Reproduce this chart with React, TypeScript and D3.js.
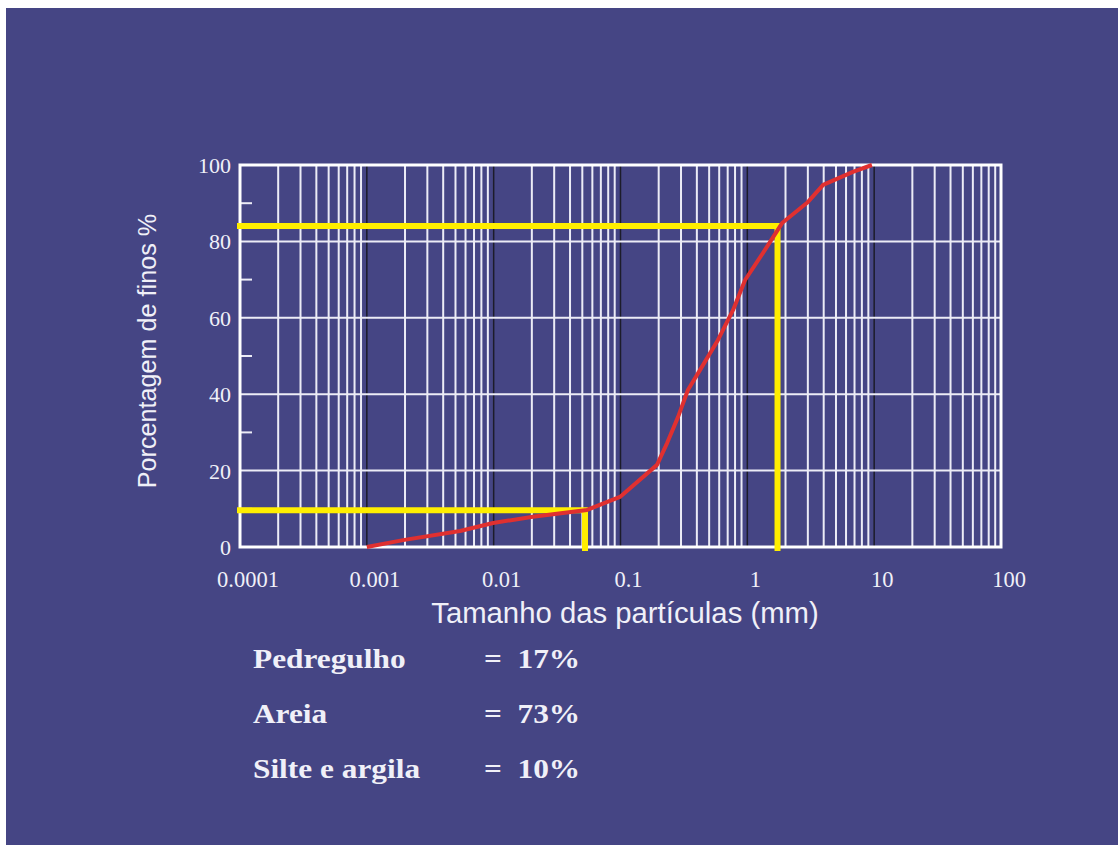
import React from 'react';
import * as d3 from 'd3';

// grading curve: particle size (mm) vs % passing
const sizes = [0.001, 0.00193, 0.00543, 0.0099, 0.0204, 0.0545, 0.099, 0.194, 0.233, 0.284, 0.34, 0.423, 0.587, 0.771, 0.96, 1.33, 1.88, 2.96, 3.96, 6.8, 9.6];
const passing = [0, 1.8, 4.2, 6.3, 7.9, 9.7, 13.1, 21.5, 27.2, 34.0, 41.1, 46.3, 54.2, 62.0, 69.9, 77.0, 84.8, 90.1, 94.8, 98.2, 100];

const xTickValues = [0.0001, 0.001, 0.01, 0.1, 1, 10, 100];
const xTickLabels = ['0.0001', '0.001', '0.01', '0.1', '1', '10', '100'];
const yTickValues = [0, 20, 40, 60, 80, 100];
const yMinorTicks = [10, 30, 50, 70, 90];

// reference lines: D at % passing
const upperRef = { size: 1.73, pct: 84 };
const lowerRef = { size: 0.0525, pct: 9.6 };

const fractionNames = ['Pedregulho', 'Areia', 'Silte e argila'];
const fractionValues = ['= 17%', '= 73%', '= 10%'];

const W = 1118;
const H = 845;
const bg = '#454584';
const fg = '#f0f0f8';
const sx = 1.14;

export default function App() {
  const x = d3.scaleLog().domain([0.0001, 100]).range([240, 1001]);
  const y = d3.scaleLinear().domain([0, 100]).range([547, 165]);

  // 2..9 within each decade
  const minorX: number[] = [];
  for (let k = -4; k < 2; k++) {
    for (let m = 2; m <= 9; m++) minorX.push(m * Math.pow(10, k));
  }
  const decadeX = xTickValues.slice(1, -1);

  const line = d3.line<number>()
    .x((_, i) => x(sizes[i]))
    .y(d => y(d));

  const [x0, x1] = x.range();
  const [yb, yt] = y.range();

  return (
    <svg width={W} height={H} style={{ position: 'absolute', left: 0, top: 0, display: 'block' }}>
      <rect x={0} y={0} width={W} height={H} fill="#fff" />
      <rect x={6} y={8} width={W - 6} height={H - 8} fill={bg} />

      {/* vertical grid */}
      {minorX.map(v => (
        <line key={'vx' + v} x1={x(v)} x2={x(v)} y1={yt} y2={yb} stroke="#ececf6" strokeWidth={2} />
      ))}
      {decadeX.map(v => (
        <line key={'dx' + v} x1={x(v)} x2={x(v)} y1={yt} y2={yb} stroke="#1c1c2a" strokeWidth={1.5} />
      ))}

      {/* horizontal grid */}
      {yTickValues.slice(1, -1).map(v => (
        <line key={'hy' + v} x1={x0} x2={x1} y1={y(v)} y2={y(v)} stroke="#ececf6" strokeWidth={2} />
      ))}
      {yMinorTicks.map(v => (
        <line key={'my' + v} x1={x0} x2={x0 + 12} y1={y(v)} y2={y(v)} stroke="#ececf6" strokeWidth={2} />
      ))}

      {/* frame */}
      <rect x={x0} y={yt} width={x1 - x0} height={yb - yt} fill="none" stroke="#fff" strokeWidth={3} />

      {/* yellow reference lines */}
      <polyline
        points={`${x0 - 3},${y(upperRef.pct)} ${x(upperRef.size)},${y(upperRef.pct)} ${x(upperRef.size)},${yb + 4}`}
        fill="none" stroke="#ffee00" strokeWidth={6} strokeLinejoin="miter"
      />
      <polyline
        points={`${x0 - 3},${y(lowerRef.pct)} ${x(lowerRef.size)},${y(lowerRef.pct)} ${x(lowerRef.size)},${yb + 4}`}
        fill="none" stroke="#ffee00" strokeWidth={6} strokeLinejoin="miter"
      />

      {/* grading curve */}
      <path d={line(passing) || ''} fill="none" stroke="#e03030" strokeWidth={4} strokeLinejoin="round" />

      {/* y tick labels */}
      {yTickValues.map(v => (
        <text key={'yl' + v} x={x0 - 9} y={y(v) + 8} textAnchor="end"
          fontFamily="'Liberation Serif', serif" fontSize={22} fill={fg}>{v}</text>
      ))}

      {/* x tick labels */}
      {xTickValues.map((v, i) => (
        <text key={'xl' + v} x={x(v) + 8} y={587} textAnchor="middle"
          fontFamily="'Liberation Serif', serif" fontSize={22.5} fill={fg}>{xTickLabels[i]}</text>
      ))}

      {/* axis titles */}
      <text x={625} y={623} textAnchor="middle" fontFamily="'Liberation Sans', Arial, sans-serif"
        fontSize={29.3} fill={fg}>Tamanho das partículas (mm)</text>
      <text transform="translate(156,351) rotate(-90)" textAnchor="middle"
        fontFamily="'Liberation Sans', Arial, sans-serif" fontSize={25.2} fill={fg}>Porcentagem de finos %</text>

      {/* fractions */}
      {fractionNames.map((name, i) => (
        <g key={name} transform={`translate(0,${668 + i * 55}) scale(${sx},1)`}>
          <text x={253 / sx} y={0} fontFamily="'Liberation Serif', serif" fontWeight="bold"
            fontSize={27.5} fill={fg}>{name}</text>
          <text x={484 / sx} y={0} fontFamily="'Liberation Serif', serif" fontWeight="bold"
            fontSize={27.5} fill={fg} style={{ whiteSpace: 'pre' }}>{fractionValues[i].replace(' ', '  ')}</text>
        </g>
      ))}
    </svg>
  );
}
